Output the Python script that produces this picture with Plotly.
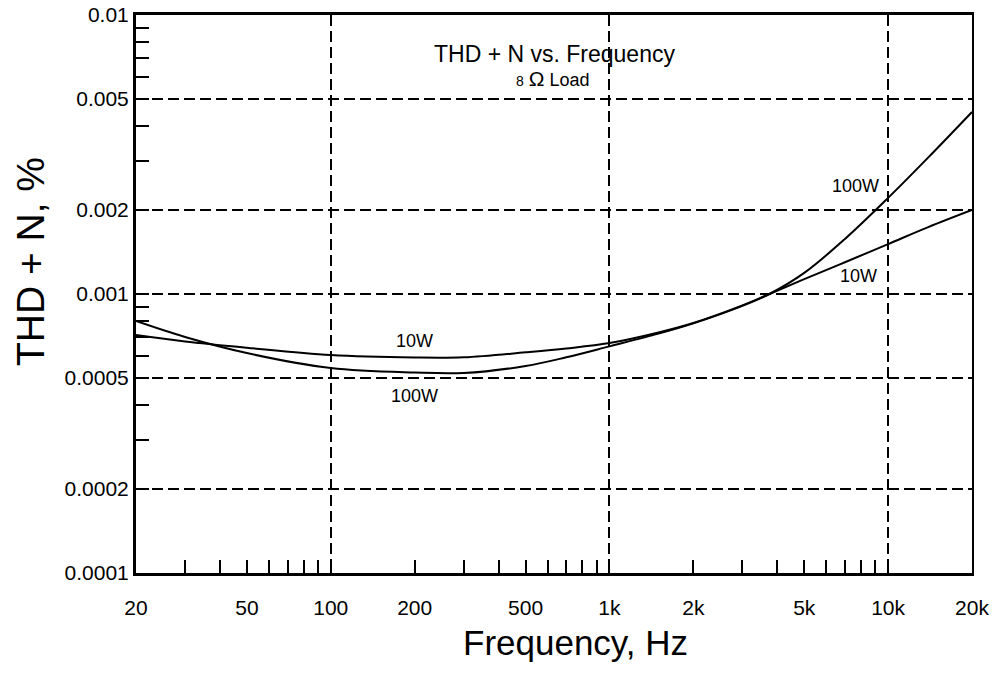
import math
import plotly.graph_objects as go

# ---- data ----
freq_hz = [20, 30, 50, 100, 200, 300, 500, 700, 1000, 1500, 2000, 3000, 3750, 5000, 7000, 10000, 14000, 20000]
thd_10w = [7.13e-4, 6.76e-4, 6.42e-4, 6.04e-4, 5.92e-4, 5.93e-4, 6.18e-4, 6.38e-4, 6.67e-4, 7.28e-4,
           7.87e-4, 9.10e-4, 1.0e-3, 1.13e-3, 1.30e-3, 1.51e-3, 1.74e-3, 2.0e-3]
thd_100w = [8.0e-4, 7.01e-4, 6.14e-4, 5.43e-4, 5.23e-4, 5.21e-4, 5.52e-4, 5.93e-4, 6.49e-4, 7.21e-4,
            7.85e-4, 9.07e-4, 1.0e-3, 1.19e-3, 1.575e-3, 2.21e-3, 3.10e-3, 4.49e-3]

x_tick_vals = [20, 50, 100, 200, 500, 1000, 2000, 5000, 10000, 20000]
x_tick_text = ["20", "50", "100", "200", "500", "1k", "2k", "5k", "10k", "20k"]
x_minor_vals = [30, 40, 60, 70, 80, 90, 300, 400, 600, 700, 800, 900,
                3000, 4000, 6000, 7000, 8000, 9000]
x_grid_vals = [100, 1000, 10000]

y_tick_vals = [1e-4, 2e-4, 5e-4, 1e-3, 2e-3, 5e-3, 1e-2]
y_tick_text = ["0.0001", "0.0002", "0.0005", "0.001", "0.002", "0.005", "0.01"]
y_minor_vals = [3e-4, 4e-4, 6e-4, 7e-4, 8e-4, 9e-4, 3e-3, 4e-3, 6e-3, 7e-3, 8e-3, 9e-3]
y_grid_vals = [2e-4, 5e-4, 1e-3, 2e-3, 5e-3]

curve_labels = [("10W", 200, 6.78e-4), ("100W", 200, 4.31e-4),
                ("100W", 7660, 2.44e-3), ("10W", 7860, 1.157e-3)]

FONT = "Arial, Liberation Sans, sans-serif"
xr = [math.log10(20), math.log10(20000)]
yr = [-4, -2]

fig = go.Figure()
fig.add_trace(go.Scatter(x=freq_hz, y=thd_10w, mode="lines", name="10W",
                         line=dict(color="black", width=2, shape="spline", smoothing=1.0)))
fig.add_trace(go.Scatter(x=freq_hz, y=thd_100w, mode="lines", name="100W",
                         line=dict(color="black", width=2, shape="spline", smoothing=1.0)))
# carrier trace for the overlay axes (grid + top/right frame)
fig.add_trace(go.Scatter(x=freq_hz, y=thd_10w, xaxis="x2", yaxis="y2", mode="lines",
                         line=dict(color="rgba(0,0,0,0)"), hoverinfo="skip", showlegend=False))

ann = dict(showarrow=False, xanchor="center", yanchor="middle")
for txt, fx, fy in curve_labels:
    fig.add_annotation(x=math.log10(fx), y=math.log10(fy), text=txt,
                       font=dict(family=FONT, size=18, color="black"), **ann)

fig.add_annotation(xref="paper", yref="paper", x=0.5, y=0.930, text="THD + N vs. Frequency",
                   font=dict(family=FONT, size=23, color="black"), **ann)
fig.add_annotation(xref="paper", yref="paper", x=0.4985, y=0.887,
                   text="<span style='font-size:14px'>8</span> <span style='font-size:21px'>Ω</span> Load",
                   font=dict(family=FONT, size=18, color="black"), **ann)
fig.add_annotation(xref="paper", yref="paper", x=0.526, y=-0.125, text="Frequency, Hz",
                   font=dict(family=FONT, size=35, color="black"), **ann)
fig.add_annotation(xref="paper", yref="paper", x=-0.1268, y=0.559, text="THD + N, %",
                   textangle=-90, font=dict(family=FONT, size=39, color="black"), **ann)

tick_common = dict(ticks="inside", ticklen=13, tickwidth=1.5, tickcolor="black")
grid_dash = "11px,5px"

fig.update_layout(
    width=996, height=674,
    margin=dict(l=136, r=24, t=15, b=101, autoexpand=False),
    paper_bgcolor="white", plot_bgcolor="white",
    showlegend=False,
    font=dict(family=FONT, color="black"),
    xaxis=dict(type="log", range=xr, tickvals=x_tick_vals, ticktext=x_tick_text,
               tickfont=dict(size=21), showgrid=False, zeroline=False, automargin=False,
               ticklabelstandoff=14, ticklabeloverflow="allow",
               showline=True, linewidth=3, linecolor="black",
               minor=dict(tickvals=x_minor_vals, showgrid=False, **tick_common),
               **tick_common),
    yaxis=dict(type="log", range=yr, tickvals=y_tick_vals, ticktext=y_tick_text,
               tickfont=dict(size=21), showgrid=False, zeroline=False, automargin=False,
               ticklabeloverflow="allow",
               showline=True, linewidth=3, linecolor="black",
               minor=dict(tickvals=y_minor_vals, showgrid=False, **tick_common),
               **tick_common),
    xaxis2=dict(type="log", range=xr, overlaying="x", side="top", anchor="y",
                tickvals=x_grid_vals, showticklabels=False, ticks="", automargin=False,
                showgrid=True, gridcolor="black", gridwidth=2, griddash=grid_dash,
                showline=True, linewidth=3, linecolor="black", zeroline=False),
    yaxis2=dict(type="log", range=yr, overlaying="y", side="right", anchor="x",
                tickvals=y_grid_vals, showticklabels=False, ticks="", automargin=False,
                showgrid=True, gridcolor="black", gridwidth=2, griddash=grid_dash,
                showline=True, linewidth=2, linecolor="black", zeroline=False),
)

# remove the page's default 8px body margin so the figure fills the 996x674 window exactly
fig.write_html("out.html", config={"displayModeBar": False},
               post_script="document.body.style.margin='0px';")
